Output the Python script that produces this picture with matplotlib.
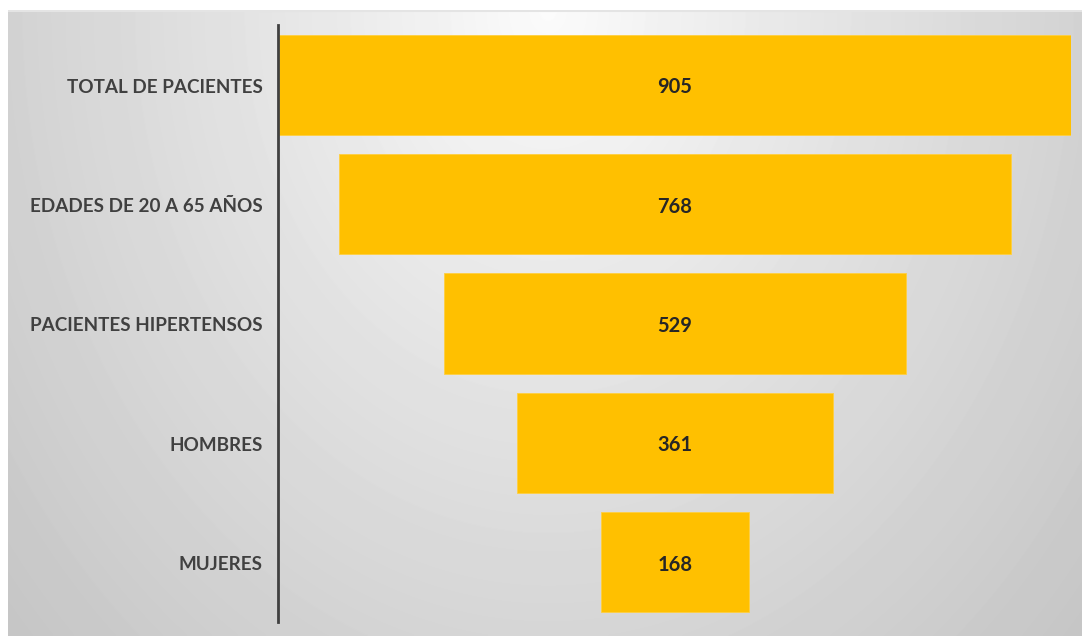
import numpy as np
import matplotlib.pyplot as plt
import matplotlib.transforms as mtrans

# ----- DATA -----
etapas = ['TOTAL DE PACIENTES', 'EDADES DE 20 A 65 AÑOS', 'PACIENTES HIPERTENSOS', 'HOMBRES', 'MUJERES']
valores = [905, 768, 529, 361, 168]

bar_color = '#FFC000'
text_color = '#404040'

plt.rcParams['font.family'] = ['Lato', 'DejaVu Sans']

fig = plt.figure(figsize=(10.82, 6.36), dpi=100)
fig.patch.set_facecolor('white')

# --- background: soft grey radial gradient (chart area) ---
bg = fig.add_axes([8 / 1082, 0, 1 - 8 / 1082, 626 / 636], zorder=0)
W, H = 1074, 626
xx, yy = np.meshgrid(np.arange(W), np.arange(H))
r = np.sqrt(((xx - 540) / 600.0) ** 2 + ((yy - 0) / 760.0) ** 2)
shade = np.clip(252 - 46 * r ** 0.9, 198, 252) / 255.0
bg.imshow(shade, cmap='gray', vmin=0, vmax=1, aspect='auto', interpolation='bilinear')
bg.axhline(0, color='#e4e4e4', lw=1.5)
bg.set_axis_off()

# --- funnel ---
ax = fig.add_axes([279 / 1082, 14 / 636, 792 / 1082, 597 / 636], zorder=1)
ax.patch.set_alpha(0)
y = np.arange(len(etapas))
total = max(valores)
lefts = [(total - v) / 2 for v in valores]
ax.barh(y, valores, left=lefts, height=0.84, color=bar_color, edgecolor='#ffcf40', linewidth=0.6)

# nudge text down a little so caps sit on the bar centre
down = mtrans.ScaledTranslation(0, -2.5 / 100, fig.dpi_scale_trans)
for yi, v, l in zip(y, valores, lefts):
    ax.text(l + v / 2, yi, str(v), ha='center', va='center', fontsize=14.5,
            fontweight='bold', color='#262626', transform=ax.transData + down)

# category labels drawn as text, right-aligned left of the axis line
lab_tr = mtrans.blended_transform_factory(ax.transAxes, ax.transData) + \
    mtrans.ScaledTranslation(-16 / 100, -2.5 / 100, fig.dpi_scale_trans)
for yi, name in zip(y, etapas):
    ax.text(0, yi, name, transform=lab_tr, ha='right', va='center',
            fontsize=13.6, fontweight='bold', color=text_color)

ax.set_yticks([])
ax.set_xticks([])
ax.set_xlim(0, total)
ax.set_ylim(len(etapas) - 0.5, -0.5)
for s in ['top', 'right', 'bottom']:
    ax.spines[s].set_visible(False)
ax.spines['left'].set_color('#404040')
ax.spines['left'].set_linewidth(2)
ax.spines['left'].set_position(('outward', 1))

fig.savefig('out.png', dpi=100)
